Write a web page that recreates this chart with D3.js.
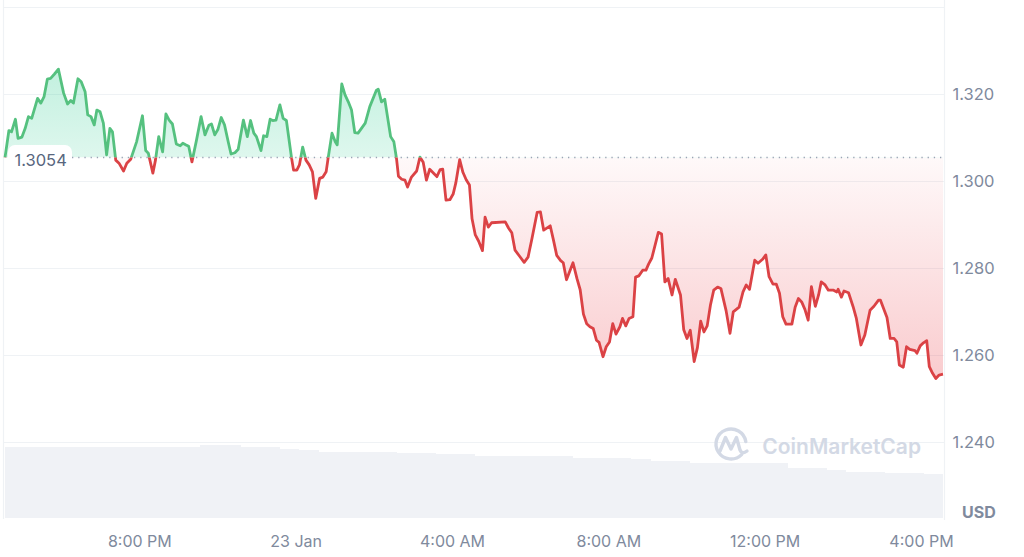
<!DOCTYPE html>
<html>
<head>
<meta charset="utf-8">
<script src="https://cdn.jsdelivr.net/npm/d3@7"></script>
<style>
  html, body { margin: 0; padding: 0; background: #fff; }
  svg { display: block; font-family: Inter, "Noto Sans", sans-serif; }
</style>
</head>
<body>
<svg id="chart" width="1024" height="557"></svg>
<script>
// ---- data ----
const startUTC = Date.UTC(2025, 0, 22, 16, 33); // 22 Jan, 4:33 PM
const spanMinutes = 1440;
const baselinePrice = 1.3054;

const minutes = [
  0,6,10,16,20,26,31,36,41,50,
  55,60,65,70,76,82,90,96,101,105,
  112,117,123,127,132,137,141,146,151,156,
  161,165,170,175,182,187,193,202,211,216,
  220,227,231,236,242,247,252,257,263,269,
  273,278,282,287,294,301,307,313,317,322,
  327,332,337,343,347,353,358,366,372,377,
  382,386,393,397,402,407,411,416,422,427,
  432,440,443,448,452,457,462,467,472,477,
  483,488,493,496,502,507,510,517,522,527,
  532,537,542,553,560,570,573,578,583,592,
  597,601,604,609,614,618,624,632,637,642,
  647,652,658,663,668,672,677,683,688,692,
  698,703,708,713,717,722,727,733,737,742,
  747,768,773,778,783,790,797,803,809,817,
  822,827,837,842,847,853,857,862,872,878,
  883,888,893,898,903,908,912,918,923,928,
  933,938,944,948,953,958,964,968,973,979,
  984,988,993,1003,1008,1013,1018,1024,1029,1037,
  1042,1047,1052,1058,1063,1068,1073,1078,1083,1088,
  1094,1099,1107,1113,1118,1127,1133,1138,1143,1151,
  1156,1163,1168,1173,1179,1184,1189,1194,1199,1208,
  1213,1218,1223,1228,1233,1238,1244,1249,1253,1259,
  1264,1272,1277,1279,1284,1288,1295,1302,1307,1314,
  1320,1328,1334,1341,1344,1354,1359,1365,1369,1373,
  1379,1384,1389,1397,1400,1405,1410,1415,1419,1424,
  1429,1434,1440
];

const prices = [
  1.3054,1.3116,1.3113,1.3142,1.3098,1.3101,1.3121,1.3148,1.3144,1.3190,
  1.3179,1.3194,1.3234,1.3236,1.3246,1.3257,1.3202,1.3177,1.3185,1.3179,
  1.3235,1.3228,1.3205,1.3152,1.3148,1.3129,1.3163,1.3159,1.3133,1.3060,
  1.3121,1.3113,1.3048,1.3041,1.3023,1.3041,1.3050,1.3090,1.3150,1.3070,
  1.3064,1.3018,1.3048,1.3102,1.3067,1.3154,1.3140,1.3131,1.3085,1.3081,
  1.3087,1.3083,1.3080,1.3044,1.3094,1.3148,1.3106,1.3128,1.3131,1.3106,
  1.3119,1.3146,1.3129,1.3088,1.3062,1.3065,1.3073,1.3140,1.3102,1.3139,
  1.3110,1.3102,1.3070,1.3104,1.3102,1.3142,1.3139,1.3140,1.3175,1.3144,
  1.3139,1.3052,1.3025,1.3025,1.3037,1.3078,1.3048,1.3037,1.3021,1.2960,
  1.3006,1.3009,1.3021,1.3052,1.3110,1.3090,1.3083,1.3223,1.3198,1.3182,
  1.3163,1.3111,1.3110,1.3133,1.3171,1.3208,1.3211,1.3182,1.3188,1.3102,
  1.3090,1.3052,1.3011,1.3004,1.3002,1.2986,1.3009,1.3023,1.3055,1.3043,
  1.3002,1.3027,1.3018,1.3010,1.3026,1.3027,1.2956,1.2957,1.2970,1.2995,
  1.3049,1.3020,1.3003,1.2991,1.2913,1.2876,1.2862,1.2840,1.2917,1.2894,
  1.2904,1.2906,1.2892,1.2881,1.2841,1.2827,1.2813,1.2825,1.2868,1.2928,
  1.2929,1.2887,1.2897,1.2864,1.2829,1.2817,1.2812,1.2773,1.2812,1.2776,
  1.2750,1.2694,1.2672,1.2665,1.2661,1.2634,1.2629,1.2596,1.2619,1.2630,
  1.2672,1.2648,1.2665,1.2684,1.2667,1.2684,1.2688,1.2779,1.2782,1.2795,
  1.2795,1.2809,1.2823,1.2882,1.2878,1.2768,1.2776,1.2738,1.2774,1.2738,
  1.2658,1.2638,1.2657,1.2585,1.2617,1.2678,1.2653,1.2667,1.2715,1.2749,
  1.2756,1.2753,1.2702,1.2650,1.2699,1.2710,1.2745,1.2761,1.2751,1.2818,
  1.2811,1.2820,1.2830,1.2780,1.2763,1.2763,1.2742,1.2688,1.2671,1.2671,
  1.2710,1.2730,1.2722,1.2705,1.2680,1.2757,1.2712,1.2738,1.2768,1.2761,
  1.2749,1.2749,1.2745,1.2751,1.2733,1.2747,1.2743,1.2711,1.2684,1.2623,
  1.2646,1.2703,1.2712,1.2726,1.2726,1.2686,1.2638,1.2638,1.2630,1.2577,
  1.2572,1.2619,1.2613,1.2610,1.2604,1.2621,1.2628,1.2633,1.2573,1.2558,
  1.2546,1.2554,1.2556
];

// 24h volume, one value per half hour (USD millions)
const volumeM = [
  71.3,71.3,71.3,71.3,71.3,71.3,71.3,71.3,71.3,71.3,
  72.7,73.0,71.3,71.3,69.3,68.0,66.3,66.3,66.3,66.3,
  65.0,65.0,64.0,64.0,62.0,62.0,62.0,62.0,62.0,60.0,
  60.0,60.0,59.5,57.0,57.0,54.7,54.7,54.7,54.7,54.7,
  50.3,50.3,48.0,46.3,46.3,45.3,45.3,44.0
];
const volumeStepMinutes = 30;

const yTicks = [1.24, 1.26, 1.28, 1.30, 1.32];
const yGridExtra = [1.34];
const currencyLabel = "USD";
const watermark = "CoinMarketCap";

// ---- build ----
const series = minutes.map((m, i) => ({ date: new Date(startUTC + m * 60000), price: prices[i] }));

const svg = d3.select("#chart");
const W = 1024, H = 557;
const plotL = 5, plotR = 943, axisR = 944;

const x = d3.scaleUtc()
  .domain([new Date(startUTC), new Date(startUTC + spanMinutes * 60000)])
  .range([plotL, plotR]);
const y = d3.scaleLinear().domain([1.24, 1.32]).range([442, 94]);
const vy = d3.scaleLinear().domain([0, 80]).range([518, 438]);

const GREEN = "#55c17f", RED = "#db4245";
const baseY = y(baselinePrice);

const defs = svg.append("defs");
const gg = defs.append("linearGradient").attr("id", "gGreen")
  .attr("gradientUnits", "userSpaceOnUse").attr("x1", 0).attr("x2", 0)
  .attr("y1", y(1.3257)).attr("y2", baseY);
gg.append("stop").attr("offset", 0).attr("stop-color", "#16c784").attr("stop-opacity", 0.26);
gg.append("stop").attr("offset", 1).attr("stop-color", "#16c784").attr("stop-opacity", 0.14);
const gr = defs.append("linearGradient").attr("id", "gRed")
  .attr("gradientUnits", "userSpaceOnUse").attr("x1", 0).attr("x2", 0)
  .attr("y1", baseY).attr("y2", y(1.2546));
gr.append("stop").attr("offset", 0).attr("stop-color", "#ea3943").attr("stop-opacity", 0.03);
gr.append("stop").attr("offset", 1).attr("stop-color", "#ea3943").attr("stop-opacity", 0.26);

defs.append("clipPath").attr("id", "clipAbove").append("rect")
  .attr("x", 0).attr("y", 0).attr("width", W).attr("height", baseY);
defs.append("clipPath").attr("id", "clipBelow").append("rect")
  .attr("x", 0).attr("y", baseY).attr("width", W).attr("height", H - baseY);

// volume bars
const vStep = x(new Date(startUTC + volumeStepMinutes * 60000)) - x(new Date(startUTC));
svg.append("g").attr("shape-rendering", "crispEdges")
  .selectAll("rect").data(volumeM).join("rect")
  .attr("x", (d, i) => x(new Date(startUTC + i * volumeStepMinutes * 60000)))
  .attr("width", (d, i) => i === volumeM.length - 1 ? vStep : vStep + 1)
  .attr("y", d => vy(d))
  .attr("height", d => vy(0) - vy(d))
  .attr("fill", "#f0f2f6");

// grid
const gridG = svg.append("g");
gridG.selectAll("line.h").data(yTicks.concat(yGridExtra)).join("line")
  .attr("x1", 3).attr("x2", axisR)
  .attr("y1", d => Math.round(y(d)) + 0.5).attr("y2", d => Math.round(y(d)) + 0.5)
  .attr("stroke", "#eff2f5").attr("stroke-width", 1.2);
gridG.append("line").attr("x1", 3.5).attr("x2", 3.5).attr("y1", 0).attr("y2", 519)
  .attr("stroke", "#eff2f5").attr("stroke-width", 1.2);
gridG.append("line").attr("x1", axisR + 0.5).attr("x2", axisR + 0.5).attr("y1", 0).attr("y2", 520)
  .attr("stroke", "#eff2f5").attr("stroke-width", 1.2);

// area + line
const area = d3.area().x(d => x(d.date)).y0(baseY).y1(d => y(d.price));
const line = d3.line().x(d => x(d.date)).y(d => y(d.price));

svg.append("path").datum(series).attr("d", area).attr("fill", "url(#gGreen)").attr("clip-path", "url(#clipAbove)");
svg.append("path").datum(series).attr("d", area).attr("fill", "url(#gRed)").attr("clip-path", "url(#clipBelow)");

// dotted baseline
svg.append("line").attr("x1", 72).attr("x2", axisR).attr("y1", baseY).attr("y2", baseY)
  .attr("stroke", "#9aa3b4").attr("stroke-width", 1.3).attr("stroke-dasharray", "1.3,4.9");

svg.append("path").datum(series).attr("d", line).attr("fill", "none").attr("stroke", GREEN)
  .attr("stroke-width", 2.8).attr("stroke-linejoin", "round").attr("clip-path", "url(#clipAbove)");
svg.append("path").datum(series).attr("d", line).attr("fill", "none").attr("stroke", RED)
  .attr("stroke-width", 2.8).attr("stroke-linejoin", "round").attr("clip-path", "url(#clipBelow)");

// baseline label
svg.append("rect").attr("x", 8).attr("y", 145).attr("width", 64).attr("height", 27)
  .attr("rx", 7).attr("fill", "#fff");
svg.append("text").attr("x", 14.5).attr("y", baseY + 8.5).text(baselinePrice.toFixed(4))
  .attr("font-size", 16.5).attr("fill", "#58667e");

// y labels
svg.append("g").selectAll("text").data(yTicks).join("text")
  .attr("x", 952.5).attr("y", d => y(d) + 6)
  .text(d => d3.format(".3f")(d))
  .attr("font-size", 16.5).attr("fill", "#808a9d");
svg.append("text").attr("x", 962).attr("y", 518).text(currencyLabel)
  .attr("font-size", 16).attr("font-weight", 700).attr("fill", "#808a9d");

// x labels
const ticks = x.ticks(d3.utcHour.every(4));
const fmt = d => d.getUTCHours() === 0 ? d3.utcFormat("%-d %b")(d) : d3.utcFormat("%-I:%M %p")(d);
svg.append("g").selectAll("text").data(ticks).join("text")
  .attr("x", d => x(d)).attr("y", 547).attr("text-anchor", "middle")
  .text(fmt).attr("font-size", 16).attr("fill", "#808a9d");

// watermark
const wm = svg.append("g").attr("fill", "none").attr("stroke", "#d3d9e5").attr("stroke-width", 3.4)
  .attr("stroke-linecap", "round").attr("stroke-linejoin", "round");
wm.append("path").attr("d", d3.arc()({innerRadius: 15, outerRadius: 15, startAngle: Math.PI * 0.75, endAngle: Math.PI * 2.45}))
  .attr("transform", "translate(731,444)");
wm.append("path").attr("d", "M720,451 L725.5,437.5 L731,449 L736.5,437.5 L740,450 Q742,455 747,451");
svg.append("text").attr("x", 921).attr("y", 454).attr("text-anchor", "end").text(watermark)
  .attr("font-size", 21).attr("font-weight", 600).attr("fill", "#d3d9e5");
</script>
</body>
</html>
